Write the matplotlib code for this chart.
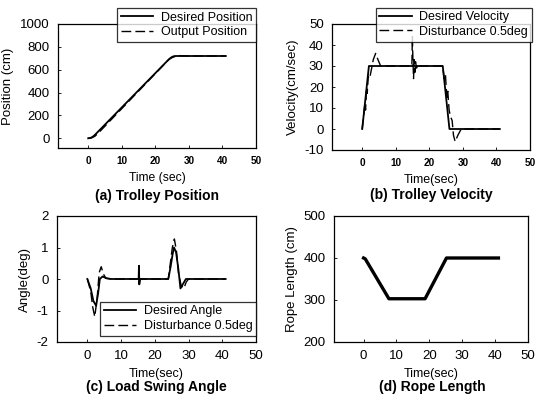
import matplotlib
matplotlib.use("Agg")
import matplotlib.pyplot as plt

plt.rcParams['font.family'] = ['Liberation Sans', 'DejaVu Sans']
plt.rcParams['axes.unicode_minus'] = False

# (a) Trolley position
pos_des_t = [0, 0.5, 1, 1.5, 2, 24, 24.5, 25, 25.5, 26, 41]
pos_des_v = [0, 1.9, 7.5, 16.9, 30, 690, 703, 712, 718, 720, 720]
pos_out_t = [0, 1, 2, 3, 24, 25, 26, 27, 28, 30, 41]
pos_out_v = [0, 3, 18, 45, 688, 706, 717, 724, 722, 720, 720]

# (b) Trolley velocity
vel_des_t = [0, 2, 24, 26, 41]
vel_des_v = [0, 30, 30, 0, 0]
vel_dis_t = [0, 0.8, 1.0, 1.3, 1.5, 1.8, 2.2, 2.7, 3.3, 4.0, 4.7, 5.5, 6.5, 8,
             14.8, 14.95, 15.1, 15.3, 15.5, 15.7, 15.9, 16.2, 16.5, 17, 24,
             24.4, 24.8, 25.2, 25.5, 25.9, 26.3, 26.8, 27.2, 27.7, 28.5, 29.5, 41]
vel_dis_v = [0, 12, 9, 20, 17, 25, 24, 28, 33, 36, 33, 30, 30, 30,
             30, 44, 34, 24, 33, 27, 32, 29, 31, 30, 30,
             24, 26, 15, 18, 9, 6, 4, -3, -6, -3, 0, 0]

# (c) Load swing angle
ang_des_t = [0, 1, 1.8, 2.6, 3.2, 3.7, 4.5, 5.5, 7, 15.2, 15.3, 15.4, 15.6, 24,
             24.7, 25.3, 25.7, 26.3, 27, 27.6, 28.4, 29.2, 30, 41]
ang_des_v = [0, -0.3, -0.7, -0.85, -0.45, 0, 0.08, 0.03, 0, 0, 0.42, -0.17, 0, 0,
             0.4, 0.8, 1.0, 0.85, 0.3, -0.3, -0.15, 0, 0, 0]
ang_dis_t = [0, 1, 1.6, 2.2, 2.9, 3.5, 4.1, 4.8, 5.5, 7, 15.2, 15.3, 15.4, 15.6, 24,
             24.6, 25.2, 25.8, 26.4, 27.0, 27.8, 28.6, 29.3, 30, 41]
ang_dis_v = [0, -0.4, -0.9, -1.2, -0.6, 0.2, 0.39, 0.15, 0.02, 0, 0, 0.35, -0.2, 0, 0,
             0.5, 1.0, 1.27, 0.9, 0.2, -0.2, -0.3, -0.1, 0, 0]

# (d) Rope length
rope_t = [0, 0.5, 7.7, 18.7, 25.2, 41]
rope_v = [400, 398, 303, 303, 400, 400]

W, H = 536, 401
fig = plt.figure(figsize=(W / 100, H / 100), dpi=100)

def mkax(l, r, t, b):
    return fig.add_axes([l / W, 1 - b / H, (r - l) / W, (b - t) / H])

axa = mkax(58, 256, 24, 148)
axb = mkax(332, 530, 24, 150)
axc = mkax(57, 256, 216, 342)
axd = mkax(334, 528, 216, 342)

for ax in (axa, axb, axc, axd):
    ax.set_xlim(-9, 50)
    ax.set_xticks([0, 10, 20, 30, 40, 50])
    ax.tick_params(direction='in', length=2, width=0.6, pad=6)
    for s in ax.spines.values():
        s.set_linewidth(0.9)

solid = dict(color='black', lw=1.3)
dashed = dict(color='black', lw=1.0, dashes=(7, 3))
leg_kw = dict(fontsize=9, frameon=True, fancybox=False, edgecolor='black',
              handlelength=2.6, borderaxespad=0, borderpad=0.3, labelspacing=0.2,
              handletextpad=0.6)

# (a)
axa.plot(pos_des_t, pos_des_v, label='Desired Position', **solid)
axa.plot(pos_out_t, pos_out_v, label='Output Position', **dashed)
axa.set_ylim(-85, 1000)
axa.set_yticks([0, 200, 400, 600, 800, 1000])
axa.tick_params(axis='y', labelsize=9.5)
axa.tick_params(axis='x', labelsize=7.2)
for lb in axa.get_xticklabels():
    lb.set_fontweight('bold')
axa.set_ylabel('Position (cm)', fontsize=9.5)
axa.set_xlabel('Time (sec)', fontsize=8.7)
la = axa.legend(loc='upper right', bbox_to_anchor=(1.0, 1.13), **leg_kw)
la.get_frame().set_linewidth(0.9)
fig.text((58 + 256) / 2 / W, 1 - 196 / H, '(a) Trolley Position', ha='center',
         va='center', fontsize=10, fontweight='bold')

# (b)
axb.plot(vel_des_t, vel_des_v, label='Desired Velocity', **solid)
axb.plot(vel_dis_t, vel_dis_v, label='Disturbance 0.5deg', **dashed)
axb.set_ylim(-10, 50)
axb.set_yticks([-10, 0, 10, 20, 30, 40, 50])
axb.tick_params(axis='y', labelsize=9.5)
axb.tick_params(axis='x', labelsize=7.2)
for lb in axb.get_xticklabels():
    lb.set_fontweight('bold')
axb.set_ylabel('Velocity(cm/sec)', fontsize=9.5)
axb.set_xlabel('Time(sec)', fontsize=9)
lb_ = axb.legend(loc='upper right', bbox_to_anchor=(1.01, 1.13), **leg_kw)
lb_.get_frame().set_linewidth(0.9)
fig.text((332 + 530) / 2 / W, 1 - 195 / H, '(b) Trolley Velocity', ha='center',
         va='center', fontsize=10, fontweight='bold')

# (c)
axc.plot(ang_des_t, ang_des_v, label='Desired Angle', **solid)
axc.plot(ang_dis_t, ang_dis_v, label='Disturbance 0.5deg', **dashed)
axc.set_ylim(-2, 2)
axc.set_yticks([-2, -1, 0, 1, 2])
axc.tick_params(axis='both', labelsize=9.5)
axc.set_ylabel('Angle(deg)', fontsize=9.5)
axc.set_xlabel('Time(sec)', fontsize=9)
lc = axc.legend(loc='lower right', bbox_to_anchor=(1.0, 0.05), **leg_kw)
lc.get_frame().set_linewidth(0.9)
fig.text((57 + 256) / 2 / W, 1 - 387 / H, '(c) Load Swing Angle', ha='center',
         va='center', fontsize=10, fontweight='bold')

# (d)
axd.plot(rope_t, rope_v, color='black', lw=2.4)
axd.set_ylim(200, 500)
axd.set_yticks([200, 300, 400, 500])
axd.tick_params(axis='both', labelsize=9.5)
axd.set_ylabel('Rope Length (cm)', fontsize=9.5)
axd.set_xlabel('Time(sec)', fontsize=9)
fig.text((334 + 531) / 2 / W, 1 - 387 / H, '(d) Rope Length', ha='center',
         va='center', fontsize=10, fontweight='bold')

fig.savefig('out.png', dpi=100)
